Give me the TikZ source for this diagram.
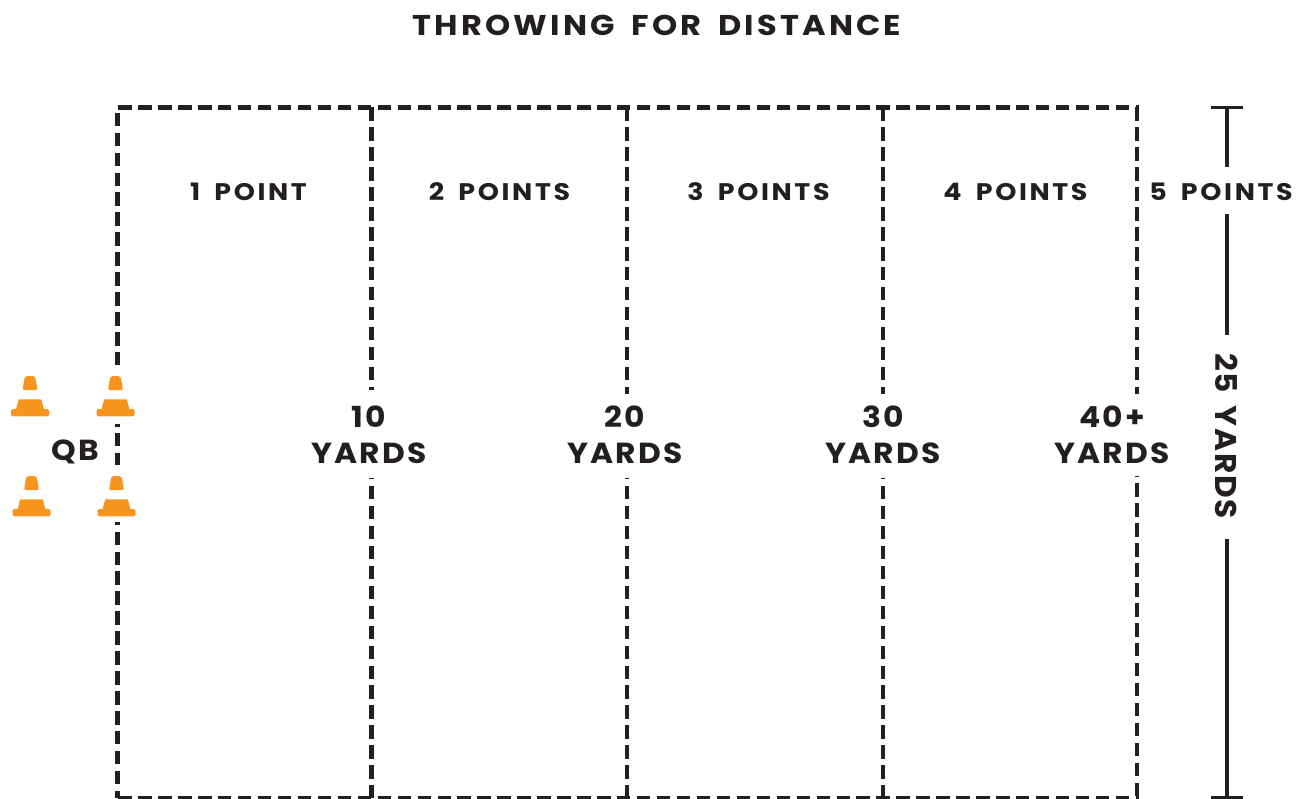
\documentclass[tikz,border=0pt]{standalone}
\usepackage{fontspec}
\setmainfont{Poppins}
\usepackage{xcolor}
\usetikzlibrary{positioning,calc}
\definecolor{inkblack}{HTML}{231F20}
\definecolor{coneorange}{HTML}{F7941D}
\newfontfamily\labelfont{Poppins Bold}[LetterSpace=11,FakeStretch=1.12,WordSpace=1.7]
\newfontfamily\yardfont{Poppins Bold}[LetterSpace=8,FakeStretch=1.08]
\newfontfamily\rulerfont{Poppins Bold}[LetterSpace=6,FakeStretch=1.04,WordSpace=1.5]
\begin{document}
\begin{tikzpicture}[x=1pt,y=-1pt,
  fieldline/.style={draw=inkblack,line width=4.6pt,dash pattern=on 13.4pt off 6.55pt},
  rulerline/.style={draw=inkblack,line width=3.6pt},
  zonelabel/.style={text=inkblack,inner sep=0pt,font=\labelfont\fontsize{24}{24}\selectfont},
  yardlabel/.style={text=inkblack,inner sep=0pt,align=center,font=\yardfont\fontsize{29}{36}\selectfont},
  trafficcone/.pic={
    \fill[coneorange,rounded corners=2pt] (-5,0)--(5,0)--(7.6,14)--(-7.6,14)--cycle;
    \fill[coneorange] (-11.3,23.3)--(11.3,23.3)--(14,33.5)--(-14,33.5)--cycle;
    \fill[coneorange,rounded corners=2pt] (-19,33)--(19,33)--(19,40.3)--(-19,40.3)--cycle;
  }
]
\useasboundingbox (0,0) rectangle (1306,799);
% title
\node[text=inkblack,inner sep=0pt,font=\labelfont\fontsize{28.6}{29}\selectfont] (title) at (657,25) {THROWING FOR DISTANCE};
% corners of the field
\coordinate (nw) at (118.3,107.5);
\coordinate (ne) at (1139,107.5);
\coordinate (sw) at (118.3,798);
\coordinate (se) at (1139,798);
\draw[fieldline] (nw)--(ne);
\draw[fieldline] (sw)--(se);
% zone labels
\node[zonelabel] (p1) at (248.5,191.5) {1 POINT};
\node[zonelabel] (p2) at (499.5,191.5) {2 POINTS};
\node[zonelabel] (p3) at (758.5,191.5) {3 POINTS};
\node[zonelabel] (p4) at (1015.5,191.5) {4 POINTS};
\node[zonelabel] (p5) at (1221,191.5) {5 POINTS};
% yard labels
\node[yardlabel] (y10) at (369,435) {10\\YARDS};
\node[yardlabel] (y20) at (625,435) {20\\YARDS};
\node[yardlabel] (y30) at (883,435) {30\\YARDS};
\node[yardlabel] (y40) at (1112,435) {40+\\YARDS};
\node[yardlabel] (qb) at (75,452) {QB};
% dashed yard lines, broken at the labels
\coordinate (a0) at (117.3,112.7);
\coordinate (a1) at (117.3,366);
\coordinate (a2) at (117.3,423.5);
\coordinate (a3) at (117.3,465);
\coordinate (a4) at (117.3,522);
\coordinate (a5) at (117.3,798);
\draw[fieldline] (a0)--(a1);
\draw[fieldline,dash phase=10.4pt] (a2)--(a3);
\draw[fieldline,dash phase=10.4pt] (a4)--(a5);
\foreach \name/\xx/\yy/\zz in {b/371.5/390/478,c/627/394/478,d/883/394/478,e/1137/394/475.5}{
  \coordinate (\name1) at (\xx,107.5);
  \coordinate (\name2) at (\xx,\yy);
  \coordinate (\name3) at (\xx,\zz);
  \coordinate (\name4) at (\xx,798);
  \draw[fieldline] (\name1)--(\name2);
  \draw[fieldline,dash phase=12pt] (\name3)--(\name4);
}
% cones
\pic at (30,376) {trafficcone};
\pic at (115.5,376) {trafficcone};
\pic at (31.5,476) {trafficcone};
\pic at (116.5,476) {trafficcone};
% 25 yards ruler
\coordinate (rt) at (1227,107.5);
\coordinate (rb) at (1227,798);
\node[text=inkblack,inner sep=0pt,rotate=-90,font=\rulerfont\fontsize{30}{30}\selectfont] (yy) at (1227,436) {25 YARDS};
\coordinate (r1) at (1227,167);
\coordinate (r2) at (1227,214);
\coordinate (r3) at (1227,335);
\coordinate (r4) at (1227,539);
\draw[rulerline] (rt)--(r1);
\draw[rulerline] (r2)--(r3);
\draw[rulerline] (r4)--(rb);
\draw[rulerline] ($(rt)+(-16,0)$)--($(rt)+(16,0)$);
\draw[rulerline] ($(rb)+(-16,0)$)--($(rb)+(16,0)$);
\end{tikzpicture}
\end{document}
